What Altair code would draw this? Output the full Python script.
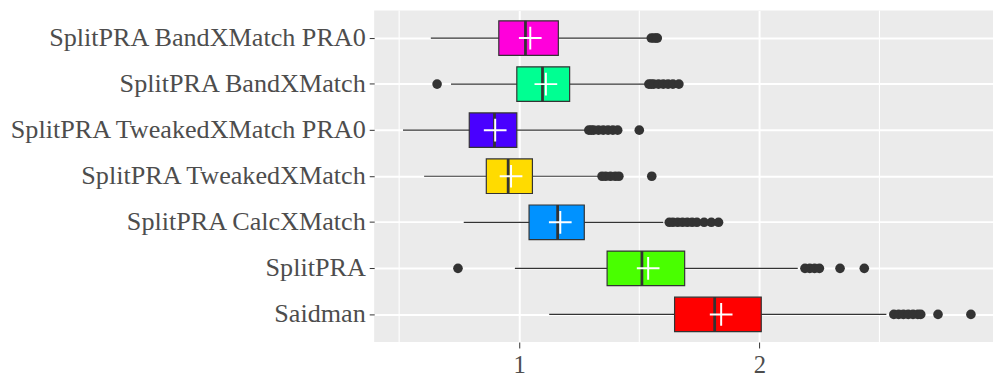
import altair as alt
import pandas as pd

categories = [
    "SplitPRA BandXMatch PRA0",
    "SplitPRA BandXMatch",
    "SplitPRA TweakedXMatch PRA0",
    "SplitPRA TweakedXMatch",
    "SplitPRA CalcXMatch",
    "SplitPRA",
    "Saidman",
]
colors = ["#FF00DB", "#00FF92", "#4900FF", "#FFDB00", "#0092FF", "#49FF00", "#FF0000"]

whisker_low = [0.632, 0.716, 0.516, 0.604, 0.769, 0.982, 1.125]
q1 = [0.915, 0.990, 0.792, 0.863, 1.041, 1.366, 1.647]
median = [1.026, 1.097, 0.897, 0.954, 1.160, 1.511, 1.814]
q3 = [1.163, 1.210, 0.990, 1.055, 1.271, 1.689, 2.008]
whisker_high = [1.540, 1.534, 1.288, 1.330, 1.600, 2.160, 2.529]
means = [1.046, 1.111, 0.900, 0.966, 1.171, 1.537, 1.841]

outliers = {
    "SplitPRA BandXMatch PRA0": [1.55, 1.56, 1.57, 1.575],
    "SplitPRA BandXMatch": [0.658, 1.54, 1.55, 1.56, 1.58, 1.60, 1.62, 1.64, 1.665],
    "SplitPRA TweakedXMatch PRA0": [1.29, 1.30, 1.31, 1.33, 1.35, 1.37, 1.39, 1.41, 1.50],
    "SplitPRA TweakedXMatch": [1.345, 1.36, 1.38, 1.40, 1.415, 1.552],
    "SplitPRA CalcXMatch": [1.625, 1.64, 1.66, 1.68, 1.70, 1.72, 1.74, 1.77, 1.80, 1.83],
    "SplitPRA": [0.745, 2.19, 2.21, 2.23, 2.25, 2.336, 2.437],
    "Saidman": [2.56, 2.58, 2.60, 2.62, 2.64, 2.66, 2.672, 2.744, 2.881],
}

minor_breaks = [0.5, 1.5, 2.5]
major_breaks = [1, 2]

stats = pd.DataFrame({
    "group": categories,
    "lo": whisker_low,
    "q1": q1,
    "med": median,
    "q3": q3,
    "hi": whisker_high,
    "mean": means,
})
out_df = pd.DataFrame(
    [{"group": g, "value": v} for g, vals in outliers.items() for v in vals]
)
minor_df = pd.DataFrame({"x": minor_breaks})

FONT = "Liberation Serif"
xscale = alt.Scale(domain=[0.396, 2.973], nice=False, zero=False)
yscale = alt.Scale(domain=categories, paddingInner=0, paddingOuter=0.1)
color_scale = alt.Scale(domain=categories, range=colors)

y_enc = alt.Y(
    "group:N",
    scale=yscale,
    sort=categories,
    title=None,
    axis=alt.Axis(
        bandPosition=0.5,
        domain=False,
        grid=True,
        gridColor="white",
        gridWidth=2,
        ticks=True,
        tickColor="#333333",
        tickSize=5,
        tickWidth=1,
        labelFont=FONT,
        labelFontSize=26.5,
        labelColor="#4D4D4D",
        labelPadding=4,
        labelLimit=0,
    ),
)
x_axis = alt.Axis(
    values=major_breaks,
    domain=False,
    grid=True,
    gridColor="white",
    gridWidth=2,
    tickColor="#333333",
    tickSize=6,
    tickWidth=1,
    labelFont=FONT,
    labelFontSize=25,
    labelColor="#4D4D4D",
    labelPadding=5,
    format="d",
)

minor = alt.Chart(minor_df).mark_rule(color="white", strokeWidth=1.1).encode(
    x=alt.X("x:Q", scale=xscale, axis=x_axis, title=None)
)

whisk = alt.Chart(stats).mark_rule(color="#333333", strokeWidth=1.2).encode(
    x=alt.X("lo:Q", scale=xscale, title=None),
    x2="hi:Q",
    y=y_enc,
)

box = alt.Chart(stats).mark_bar(size=35, stroke="#333333", strokeWidth=1.2).encode(
    x=alt.X("q1:Q", scale=xscale, title=None),
    x2="q3:Q",
    y=y_enc,
    color=alt.Color("group:N", scale=color_scale, legend=None),
)

med = alt.Chart(stats).mark_tick(
    orient="vertical", size=35, thickness=2.8, color="#333333", opacity=1
).encode(
    x=alt.X("med:Q", scale=xscale, title=None),
    y=y_enc,
)

outl = alt.Chart(out_df).mark_circle(size=95, color="#333333", opacity=1).encode(
    x=alt.X("value:Q", scale=xscale, title=None),
    y=y_enc,
)

mean_pt = alt.Chart(stats).mark_point(
    shape="M-1,0L1,0M0,-1L0,1", size=529, stroke="white", strokeWidth=2,
    filled=False, opacity=1
).encode(
    x=alt.X("mean:Q", scale=xscale, title=None),
    y=y_enc,
)

chart = alt.layer(minor, whisk, box, med, outl, mean_pt).properties(
    width=627,
    height=336,
    autosize=alt.AutoSizeParams(type="none"),
    padding={"left": 371, "top": 0, "right": 0, "bottom": 36},
).configure_view(fill="#EBEBEB", stroke=None)

chart.save("out.html", embed_options={"renderer": "svg", "actions": False})
